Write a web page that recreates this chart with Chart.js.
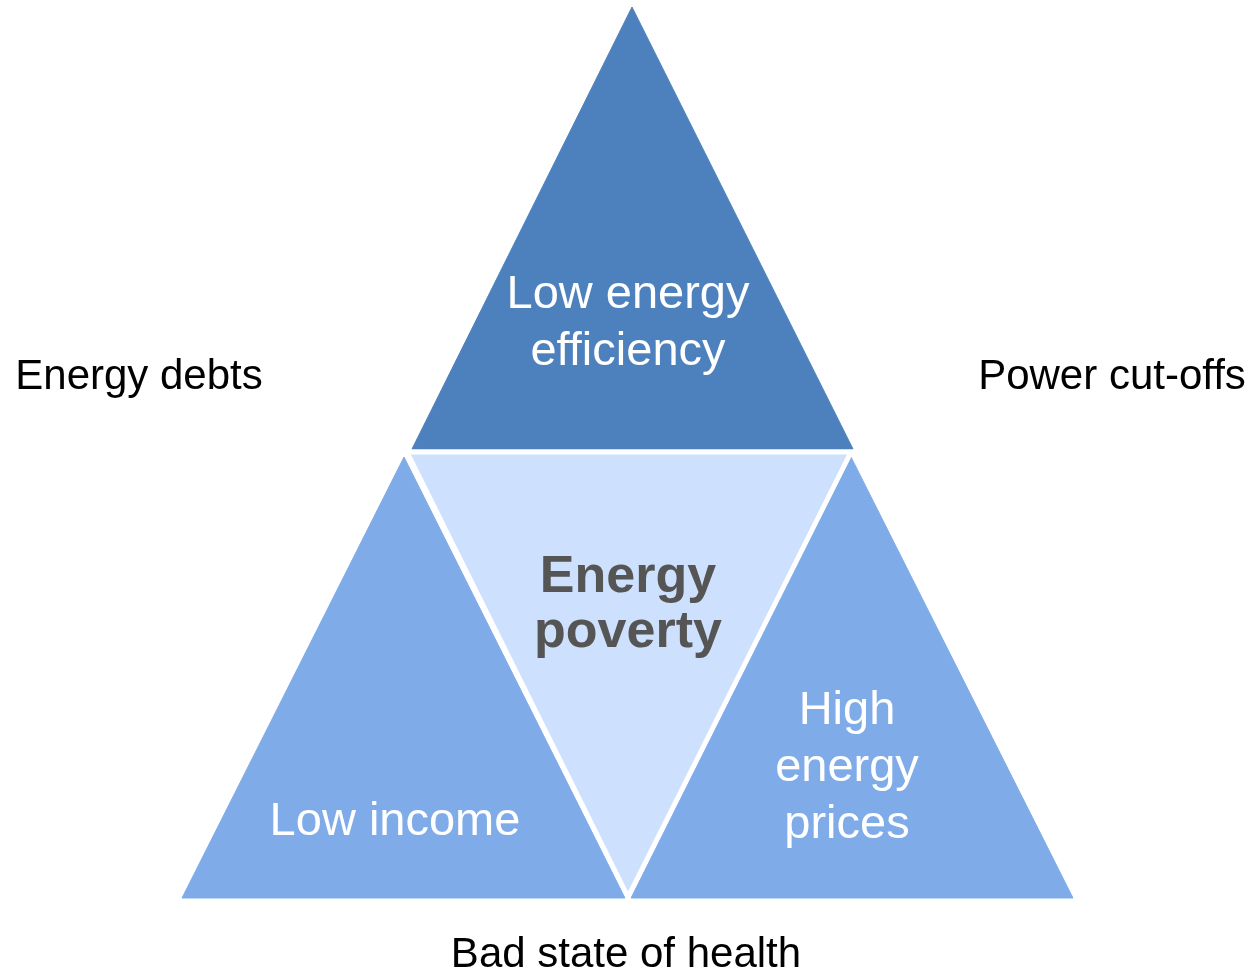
<!DOCTYPE html>
<html>
<head>
<meta charset="utf-8">
<script src="https://cdn.jsdelivr.net/npm/chart.js@4"></script>
<style>
  html, body { margin: 0; padding: 0; background: #ffffff; }
  #wrap { width: 1251px; height: 972px; }
</style>
</head>
<body>
<div id="wrap"><canvas id="chart1" width="1251" height="972"></canvas></div>
<script>
// triangle corners (diagram units, y grows downward)
const centreTri = [[407, 452], [851, 452], [628, 897], [407, 452]];
const topTri = [[632, 7], [853, 449], [412, 449], [632, 7]];
const leftTri = [[404, 457], [625, 898], [182, 898], [404, 457]];
const rightTri = [[851, 457], [1073, 898], [631, 898], [851, 457]];

// labels and where they sit
const innerLabels = [
  { lines: ['Low energy', 'efficiency'], at: [628, 324] },
  { lines: ['Low income'], at: [395, 822] },
  { lines: ['High', 'energy', 'prices'], at: [847, 768] }
];
const centreLabel = { lines: ['Energy', 'poverty'], at: [628, 605] };
const outerLabels = [
  { lines: ['Energy debts'], at: [139, 377] },
  { lines: ['Power cut-offs'], at: [1112, 377] },
  { lines: ['Bad state of health'], at: [626, 955] }
];

const toPoints = arr => arr.map(([x, y]) => ({ x, y }));

const labelPlugin = {
  id: 'labelPlugin',
  afterDatasetsDraw(chart) {
    const ctx = chart.ctx;
    const xs = chart.scales.x, ys = chart.scales.y;
    const put = (lab, font, color, lh) => {
      ctx.save();
      ctx.font = font;
      ctx.fillStyle = color;
      ctx.textAlign = 'center';
      ctx.textBaseline = 'middle';
      const cx = xs.getPixelForValue(lab.at[0]);
      const cy = ys.getPixelForValue(lab.at[1]);
      const n = lab.lines.length;
      lab.lines.forEach((t, i) => {
        ctx.fillText(t, cx, cy + (i - (n - 1) / 2) * lh);
      });
      ctx.restore();
    };
    innerLabels.forEach(l => put(l, '47px "Liberation Sans", Arial, sans-serif', '#ffffff', 57));
    put(centreLabel, 'bold 52px "Liberation Sans", Arial, sans-serif', '#555555', 55);
    outerLabels.forEach(l => put(l, '42px "Liberation Sans", Arial, sans-serif', '#000000', 50));
  }
};

const ctx = document.getElementById('chart1').getContext('2d');
new Chart(ctx, {
  type: 'scatter',
  data: {
    datasets: [
      { data: toPoints(centreTri), backgroundColor: '#CDE0FE', borderColor: '#ffffff', borderWidth: 5, fill: 'shape' },
      { data: toPoints(topTri), backgroundColor: '#4D81BD', borderColor: '#4D81BD', borderWidth: 1, fill: 'shape' },
      { data: toPoints(leftTri), backgroundColor: '#7FACE9', borderColor: '#7FACE9', borderWidth: 1, fill: 'shape' },
      { data: toPoints(rightTri), backgroundColor: '#7FACE9', borderColor: '#7FACE9', borderWidth: 1, fill: 'shape' }
    ]
  },
  options: {
    responsive: false,
    animation: false,
    devicePixelRatio: 1,
    showLine: true,
    layout: { padding: 0 },
    elements: {
      point: { radius: 0, hoverRadius: 0 },
      line: { tension: 0, borderJoinStyle: 'miter' }
    },
    plugins: {
      legend: { display: false },
      tooltip: { enabled: false }
    },
    scales: {
      x: { type: 'linear', min: 0, max: 1251, display: false },
      y: { type: 'linear', min: 0, max: 972, reverse: true, display: false }
    }
  },
  plugins: [labelPlugin]
});
</script>
</body>
</html>
